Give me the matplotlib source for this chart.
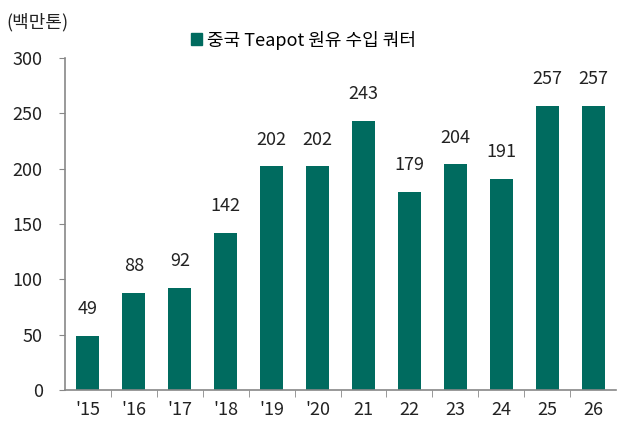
import matplotlib
matplotlib.use("Agg")
import matplotlib.pyplot as plt
from matplotlib.patches import Patch

plt.rcParams['font.family'] = ['Noto Sans CJK KR', 'DejaVu Sans']

categories = ["'15", "'16", "'17", "'18", "'19", "'20", "21", "22", "23", "24", "25", "26"]
values = [49, 88, 92, 142, 202, 202, 243, 179, 204, 191, 257, 257]
series_name = "중국 Teapot 원유 수입 쿼터"
unit_label = "(백만톤)"
color = "#006B5F"
fs = 13

fig = plt.figure(figsize=(6.17, 4.24), dpi=100)
ax = fig.add_axes([65/617, 1-390/424, 551/617, (390-58)/424])

x = list(range(len(categories)))
ax.bar(x, values, width=0.5, color=color, zorder=2)
for xi, v in zip(x, values):
    ax.text(xi, v + 16, str(v), ha='center', va='bottom', fontsize=fs, color='#222222')

ax.set_xlim(-0.5, len(categories) - 0.5)
ax.set_ylim(0, 300)
ax.set_yticks(range(0, 301, 50))
ax.tick_params(axis='y', labelsize=fs, length=4, color='#888888', direction='out', pad=12, labelcolor='#222222')
ax.set_xticks(x)
ax.set_xticklabels(categories)
ax.set_xticks([i + 0.5 for i in x[:-1]], minor=True)
ax.tick_params(axis='x', which='major', length=0, labelsize=fs, pad=8, labelcolor='#222222')
ax.tick_params(axis='x', which='minor', length=5, color='#888888', direction='out')
for s in ['top', 'right']:
    ax.spines[s].set_visible(False)
for s in ['left', 'bottom']:
    ax.spines[s].set_color('#888888')
    ax.spines[s].set_linewidth(1.2)

fig.text(6/617, 1-22/424, unit_label, fontsize=fs, va='center', ha='left', color='#222222')
leg = fig.legend(handles=[Patch(color=color, label=series_name)], loc='center left',
                 bbox_to_anchor=(182/617, 1-40/424), frameon=False, fontsize=fs,
                 handlelength=0.6, handleheight=0.6, handletextpad=0.3, borderpad=0)

fig.savefig("out.png", dpi=100)
